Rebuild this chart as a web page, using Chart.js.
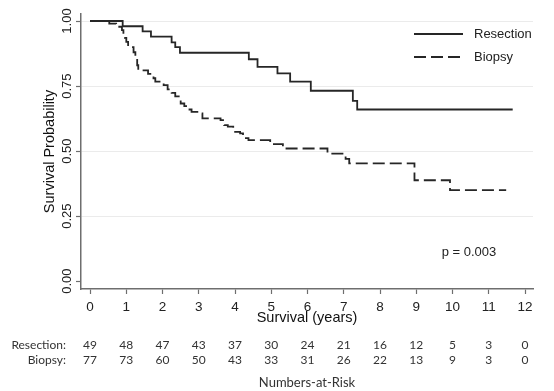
<!DOCTYPE html>
<html>
<head>
<meta charset="utf-8">
<script src="https://cdn.jsdelivr.net/npm/chart.js@4/dist/chart.umd.min.js"></script>
<style>
  html, body { margin: 0; padding: 0; background: #fff; }
  #km { display: block; }
</style>
</head>
<body>
<canvas id="km" width="554" height="391"></canvas>
<script>
// Kaplan-Meier steps (time in years, survival after the drop)
const resTimes = [0, 0.9, 1.45, 1.68, 2.25, 2.35, 2.48, 4.38, 4.62, 5.17, 5.52, 6.09, 7.25, 7.37, 11.66];
const resSurv = [1.0, 0.98, 0.96, 0.94, 0.918, 0.90, 0.878, 0.853, 0.824, 0.799, 0.767, 0.732, 0.693, 0.66, 0.66];

const bioTimes = [0, 0.53, 0.72, 0.88, 0.92, 0.96, 1.0, 1.05, 1.2, 1.25,
  1.3, 1.33, 1.6, 1.75, 1.8, 2.03, 2.14, 2.25, 2.35, 2.5,
  2.6, 2.7, 2.8, 3.0, 3.1, 3.6, 3.7, 3.8, 3.95, 4.14,
  4.22, 4.3, 4.37, 4.97, 5.32, 6.55, 7.05, 7.15, 8.95, 9.93,
  11.48];
const bioSurv = [1.0, 0.99, 0.978, 0.965, 0.95, 0.935, 0.92, 0.90, 0.88, 0.855,
  0.83, 0.81, 0.797, 0.78, 0.767, 0.754, 0.737, 0.724, 0.71, 0.683,
  0.673, 0.66, 0.651, 0.645, 0.626, 0.619, 0.60, 0.594, 0.574, 0.568,
  0.56, 0.55, 0.542, 0.527, 0.51, 0.49, 0.47, 0.453, 0.388, 0.35,
  0.35];

// numbers-at-risk table
const riskYears = [0, 1, 2, 3, 4, 5, 6, 7, 8, 9, 10, 11, 12];
const riskResection = [49, 48, 47, 43, 37, 30, 24, 21, 16, 12, 5, 3, 0];
const riskBiopsy = [77, 73, 60, 50, 43, 33, 31, 26, 22, 13, 9, 3, 0];

const groupNames = ["Resection", "Biopsy"];
const pValueText = "p = 0.003";

function toPoints(xs, ys) {
  return xs.map((x, i) => ({ x: x, y: ys[i] }));
}

Chart.defaults.font.family = "'Liberation Sans', Arial, sans-serif";
Chart.defaults.color = "#222";

const LINE = "#262626";
const AXIS = "#6e6e6e";

// legend, p value and the at-risk table
const extras = {
  id: "extras",
  afterDraw(chart) {
    const ctx = chart.ctx;
    const xs = chart.scales.x;
    const ys = chart.scales.y;
    const area = chart.chartArea;
    ctx.save();

    // legend (top right, inside plot)
    chart.data.datasets.forEach((ds, i) => {
      const y = area.top + 20 + i * 23;
      ctx.strokeStyle = ds.borderColor;
      ctx.lineWidth = ds.borderWidth;
      ctx.setLineDash(ds.borderDash || []);
      ctx.beginPath();
      ctx.moveTo(414, y);
      ctx.lineTo(463, y);
      ctx.stroke();
      ctx.setLineDash([]);
      ctx.fillStyle = "#222";
      ctx.font = "13px 'Liberation Sans', Arial, sans-serif";
      ctx.textAlign = "left";
      ctx.textBaseline = "middle";
      ctx.fillText(ds.label, 474, y);
    });

    // p value
    ctx.font = "13px 'Liberation Sans', Arial, sans-serif";
    ctx.textAlign = "left";
    ctx.textBaseline = "middle";
    ctx.fillStyle = "#222";
    ctx.fillText(pValueText, xs.getPixelForValue(9.7), ys.getPixelForValue(0.11));

    // numbers at risk
    ctx.font = "12px Lato, 'Noto Sans', sans-serif";
    ctx.fillStyle = "#333";
    const rowY = [area.bottom + 56, area.bottom + 71.5];
    ctx.textAlign = "right";
    ctx.fillText(groupNames[0] + ":", 66, rowY[0]);
    ctx.fillText(groupNames[1] + ":", 66, rowY[1]);
    ctx.textAlign = "center";
    riskYears.forEach((yr, i) => {
      const px = xs.getPixelForValue(yr);
      ctx.fillText(String(riskResection[i]), px, rowY[0]);
      ctx.fillText(String(riskBiopsy[i]), px, rowY[1]);
    });
    ctx.font = "13px Lato, 'Noto Sans', sans-serif";
    ctx.fillText("Numbers-at-Risk", (area.left + area.right) / 2, area.bottom + 94);

    ctx.restore();
  },
};

new Chart(document.getElementById("km"), {
  type: "line",
  data: {
    datasets: [
      {
        label: groupNames[0],
        data: toPoints(resTimes, resSurv),
        borderColor: LINE,
        borderWidth: 1.8,
        stepped: "before",
        pointRadius: 0,
        fill: false,
      },
      {
        label: groupNames[1],
        data: toPoints(bioTimes, bioSurv),
        borderColor: LINE,
        borderWidth: 1.8,
        borderDash: [12, 5],
        stepped: "before",
        pointRadius: 0,
        fill: false,
      },
    ],
  },
  options: {
    responsive: false,
    animation: false,
    layout: { padding: { top: 14, right: 21, bottom: 0, left: 0 } },
    plugins: {
      legend: { display: false },
      tooltip: { enabled: false },
    },
    scales: {
      x: {
        type: "linear",
        min: -0.25,
        max: 12.22,
        afterFit: (scale) => { scale.height = 102; },
        ticks: {
          stepSize: 1,
          includeBounds: false,
          autoSkip: false,
          maxRotation: 0,
          padding: 5.5,
          color: "#222",
          font: { size: 13.5 },
        },
        grid: {
          drawOnChartArea: false,
          drawTicks: true,
          tickLength: 5,
          tickColor: AXIS,
          tickWidth: 1.2,
        },
        border: { display: true, color: AXIS, width: 1.5 },
        title: {
          display: true,
          text: "Survival (years)",
          color: "#111",
          font: { size: 14.5 },
          padding: { top: 0, bottom: 64 },
        },
      },
      y: {
        type: "linear",
        min: -0.03,
        max: 1.027,
        afterFit: (scale) => { scale.width = 81; },
        ticks: {
          stepSize: 0.25,
          includeBounds: false,
          minRotation: 90,
          maxRotation: 90,
          crossAlign: "center",
          padding: -4.5,
          color: "#222",
          font: { size: 13 },
          callback: (v) => v.toFixed(2),
        },
        grid: {
          color: (c) => (c.tick && c.tick.value === 0 ? "rgba(0,0,0,0)" : "#ebebeb"),
          lineWidth: 1,
          drawTicks: true,
          tickLength: 5,
          tickColor: AXIS,
          tickWidth: 1.2,
        },
        border: { display: true, color: AXIS, width: 1.5 },
        title: {
          display: true,
          text: "Survival Probability",
          color: "#111",
          font: { size: 14.5 },
          padding: { top: 41, bottom: 0 },
        },
      },
    },
  },
  plugins: [extras],
});
</script>
</body>
</html>
